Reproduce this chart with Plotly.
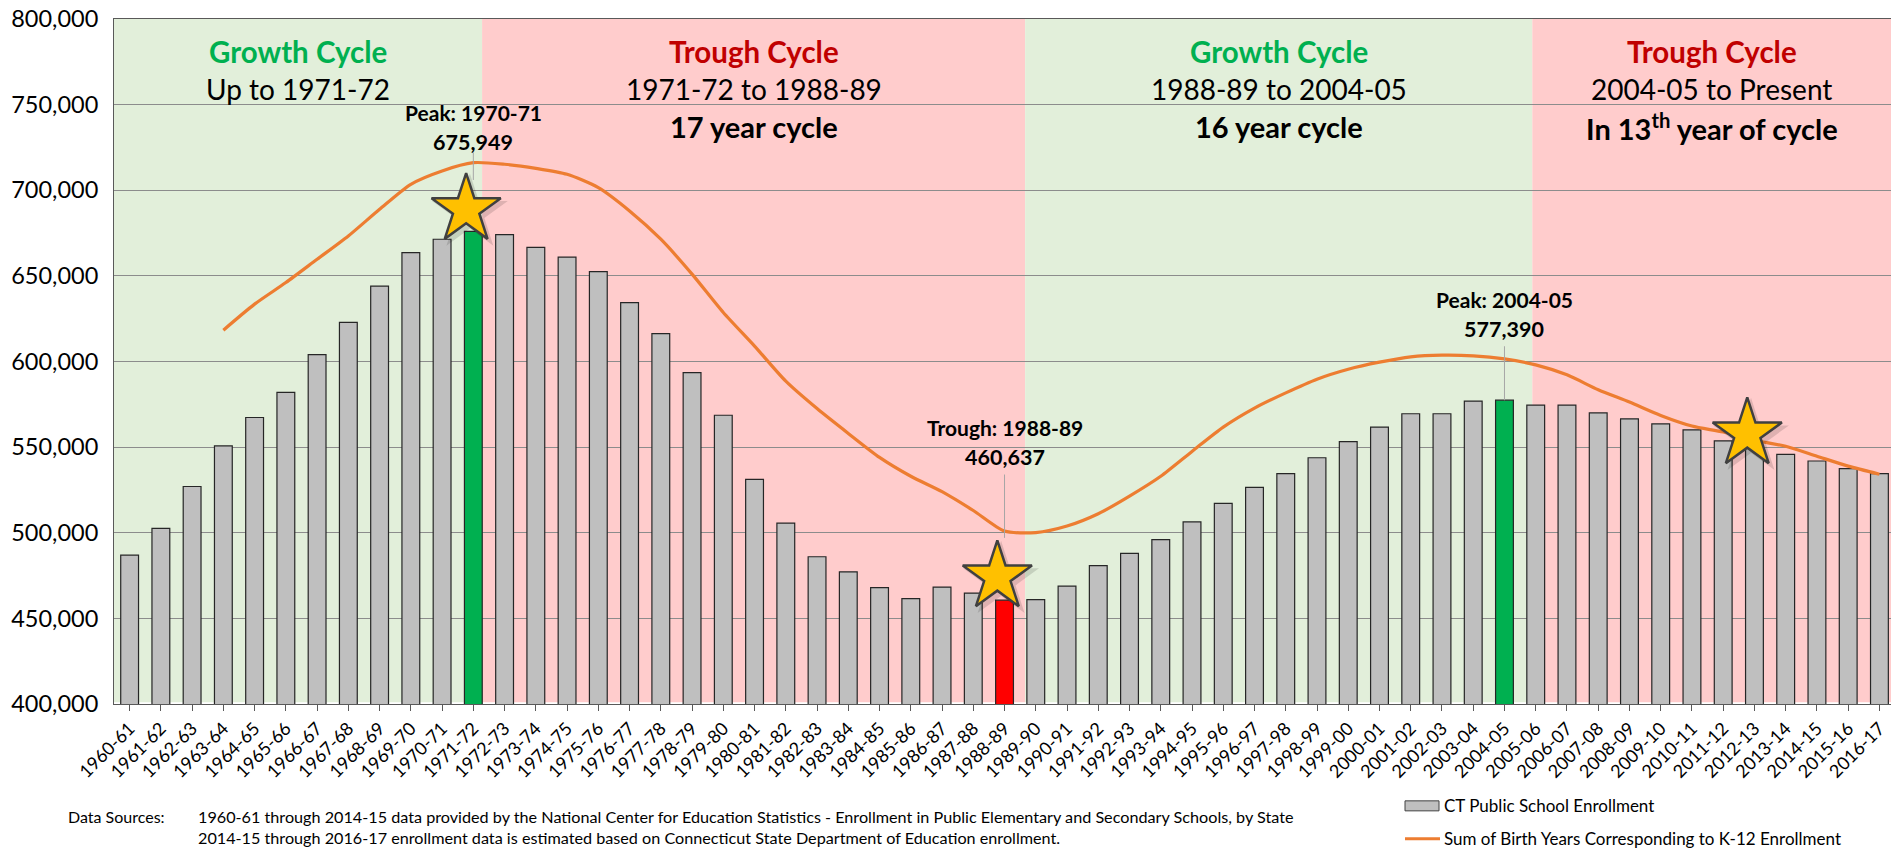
import plotly.graph_objects as go

# ---------------- data ----------------
years = ["1960-61", "1961-62", "1962-63", "1963-64", "1964-65", "1965-66", "1966-67", "1967-68",
         "1968-69", "1969-70", "1970-71", "1971-72", "1972-73", "1973-74", "1974-75", "1975-76",
         "1976-77", "1977-78", "1978-79", "1979-80", "1980-81", "1981-82", "1982-83", "1983-84",
         "1984-85", "1985-86", "1986-87", "1987-88", "1988-89", "1989-90", "1990-91", "1991-92",
         "1992-93", "1993-94", "1994-95", "1995-96", "1996-97", "1997-98", "1998-99", "1999-00",
         "2000-01", "2001-02", "2002-03", "2003-04", "2004-05", "2005-06", "2006-07", "2007-08",
         "2008-09", "2009-10", "2010-11", "2011-12", "2012-13", "2013-14", "2014-15", "2015-16",
         "2016-17"]

enrollment = [486900, 502600, 527000, 550700, 567300, 582000, 604000, 622800,
              644000, 663600, 671400, 675949, 674100, 666700, 660900, 652500,
              634400, 616300, 593500, 568600, 531200, 505600, 486000, 477200,
              467900, 461500, 468300, 464800, 460637, 461000, 468800, 480800,
              488000, 496000, 506300, 517200, 526500, 534500, 543800, 553200,
              561700, 569500, 569500, 576900, 577390, 574500, 574500, 570000,
              566500, 563600, 560100, 553700, 550100, 545800, 541900, 537400,
              534500]

# Sum of birth years (line) starts at 1963-64
birth_years = years[3:]
birth_sum = [618300, 633500, 646100, 659700, 673300, 688900, 703500, 711300, 716100,
             715200, 712800, 709300, 701500, 687900, 671400, 651000, 628600, 609000,
             588500, 572500, 558000, 544000, 533000, 524000, 513000, 501000, 500100,
             503900, 511100, 521400, 533000, 547500, 561700, 572800, 581700, 589700,
             595500, 599600, 602700, 603700, 603300, 601500, 598000, 592200, 583500,
             576300, 568500, 562300, 558800, 554000, 550500, 544700, 538900, 534200]

peak_years = ["1971-72", "2004-05"]
trough_years = ["1988-89"]

# cycle shading regions (category-axis boundaries) and their captions
cycle_edges = [-0.5, 11.28, 28.66, 44.89, 56.37]
cycle_kind = ["growth", "trough", "growth", "trough"]
cycle_titles = ["Growth Cycle", "Trough Cycle", "Growth Cycle", "Trough Cycle"]
cycle_ranges = ["Up to 1971-72", "1971-72 to 1988-89", "1988-89 to 2004-05", "2004-05 to Present"]
cycle_lengths = ["", "17 year cycle", "16 year cycle", "In 13<sup>th</sup> year of cycle"]

# callouts
callout_years = ["1971-72", "1988-89", "2004-05"]
callout_titles = ["Peak: 1970-71", "Trough: 1988-89", "Peak: 2004-05"]
callout_values = ["675,949", "460,637", "577,390"]

# stars
star_years = ["1971-72", "1988-89", "2012-13"]
star_values = [688800, 474300, 557800]

y_ticks = [400000, 450000, 500000, 550000, 600000, 650000, 700000, 750000, 800000]

# ---------------- styling ----------------
FONT = "Lato, 'Open Sans', sans-serif"
GRAY = "#BFBFBF"
GREEN = "#00B050"
RED = "#FF0000"
ORANGE = "#ED7D31"
SHADE = {"growth": "#E2EFDA", "trough": "#FFCCCC"}
TITLE_COL = {"growth": "#00B050", "trough": "#C00000"}

idx = {y: i for i, y in enumerate(years)}
xs = list(range(len(years)))
bar_colors = []
for y in years:
    if y in peak_years:
        bar_colors.append(GREEN)
    elif y in trough_years:
        bar_colors.append(RED)
    else:
        bar_colors.append(GRAY)

fig = go.Figure()

fig.add_trace(go.Bar(
    x=xs, y=enrollment,
    marker=dict(color=bar_colors, line=dict(color="#262626", width=1.2)),
    width=0.57, name="CT Public School Enrollment", showlegend=False,
    customdata=years, hovertemplate="%{customdata}: %{y:,}<extra></extra>",
))

fig.add_trace(go.Scatter(
    x=[idx[y] for y in birth_years], y=birth_sum, mode="lines",
    line=dict(color=ORANGE, width=3.2, shape="spline", smoothing=0.7),
    name="Sum of Birth Years Corresponding to K-12 Enrollment", showlegend=False,
))

# stars (soft shadow + star)
sx = [idx[y] - 0.23 for y in star_years]
fig.add_trace(go.Scatter(
    x=[v + 0.12 for v in sx], y=[v - 2300 for v in star_values], mode="markers",
    marker=dict(symbol="star", size=57, color="rgba(0,0,0,0.13)", line=dict(width=0)),
    showlegend=False, hoverinfo="skip",
))
fig.add_trace(go.Scatter(
    x=sx, y=star_values, mode="markers",
    marker=dict(symbol="star", size=52, color="#FFC000", line=dict(color="#404040", width=2.5)),
    showlegend=False, hoverinfo="skip",
))

shapes = []
annotations = []

# background cycle shading
for k in range(len(cycle_kind)):
    shapes.append(dict(type="rect", xref="x", yref="y", layer="below",
                       x0=cycle_edges[k], x1=cycle_edges[k + 1] + (0.2 if k == 3 else 0),
                       y0=401000, y1=800000,
                       fillcolor=SHADE[cycle_kind[k]], line=dict(width=0)))
    cx = (cycle_edges[k] + cycle_edges[k + 1]) / 2
    annotations.append(dict(x=cx, y=781300, xref="x", yref="y", text="<b>%s</b>" % cycle_titles[k],
                            showarrow=False, font=dict(size=29.5, color=TITLE_COL[cycle_kind[k]], family=FONT)))
    annotations.append(dict(x=cx, y=759000, xref="x", yref="y", text=cycle_ranges[k],
                            showarrow=False, font=dict(size=28, color="#000000", family=FONT)))
    if cycle_lengths[k]:
        annotations.append(dict(x=cx, y=737000, xref="x", yref="y", text="<b>%s</b>" % cycle_lengths[k],
                                showarrow=False, font=dict(size=29, color="#000000", family=FONT)))

# callouts with leader lines
callout_title_y = [745500, 561300, 636400]
callout_value_y = [728400, 544100, 618900]
leader = [(722000, 706000), (534000, 497000), (608900, 577390)]
for k, y in enumerate(callout_years):
    cx = idx[y]
    shapes.append(dict(type="line", xref="x", yref="y", x0=cx, x1=cx,
                       y0=leader[k][0], y1=leader[k][1], line=dict(color="#A6A6A6", width=1)))
    annotations.append(dict(x=cx, y=callout_title_y[k], xref="x", yref="y",
                            text="<b>%s</b>" % callout_titles[k], showarrow=False,
                            font=dict(size=21, color="#000000", family=FONT)))
    annotations.append(dict(x=cx, y=callout_value_y[k], xref="x", yref="y",
                            text="<b>%s</b>" % callout_values[k], showarrow=False,
                            font=dict(size=21.5, color="#000000", family=FONT)))

# manual legend (bottom right)
PW, PH, L, B = 1777.0, 686.0, 114.0, 705.0
def px(xp):
    return (xp - L) / PW
def py(yp):
    return (B - yp) / PH

shapes.append(dict(type="rect", xref="paper", yref="paper", x0=px(1405), x1=px(1439),
                   y0=py(812), y1=py(802), fillcolor=GRAY, line=dict(color="#404040", width=1)))
shapes.append(dict(type="line", xref="paper", yref="paper", x0=px(1405), x1=px(1440),
                   y0=py(840), y1=py(840), line=dict(color=ORANGE, width=3)))
annotations.append(dict(x=px(1442), y=py(807), xref="paper", yref="paper", xanchor="left",
                        yanchor="middle", text="CT Public School Enrollment", showarrow=False,
                        font=dict(size=17, color="#000000", family=FONT)))
annotations.append(dict(x=px(1442), y=py(840), xref="paper", yref="paper", xanchor="left",
                        yanchor="middle", text="Sum of Birth Years Corresponding to K-12 Enrollment",
                        showarrow=False, font=dict(size=17, color="#000000", family=FONT)))

# data sources note
annotations.append(dict(x=px(66), y=py(818), xref="paper", yref="paper", xanchor="left",
                        yanchor="middle", text="Data Sources:", showarrow=False,
                        font=dict(size=16, color="#000000", family=FONT)))
annotations.append(dict(x=px(196), y=py(818), xref="paper", yref="paper", xanchor="left",
                        yanchor="middle",
                        text="1960-61 through 2014-15 data provided by the National Center for Education Statistics - Enrollment in Public Elementary and Secondary Schools, by State",
                        showarrow=False, font=dict(size=16.2, color="#000000", family=FONT)))
annotations.append(dict(x=px(196), y=py(839), xref="paper", yref="paper", xanchor="left",
                        yanchor="middle",
                        text="2014-15 through 2016-17 enrollment data is estimated based on Connecticut State Department of Education enrollment.",
                        showarrow=False, font=dict(size=16.2, color="#000000", family=FONT)))

fig.update_layout(
    width=1891, height=850, autosize=False,
    margin=dict(l=114, r=0, t=19, b=146, pad=0),
    paper_bgcolor="white", plot_bgcolor="white",
    font=dict(family=FONT, color="#000000"),
    shapes=shapes, annotations=annotations,
    bargap=0.43,
    xaxis=dict(range=[-0.5, 56.37], tickmode="array", tickvals=xs, ticktext=years,
               tickangle=-45, tickfont=dict(size=18, family=FONT, color="#000000"),
               ticks="outside", ticklen=6, tickcolor="#595959",
               showline=True, linecolor="#595959", linewidth=1, mirror=True,
               showgrid=False, zeroline=False),
    yaxis=dict(range=[400000, 800000], tickmode="array", tickvals=y_ticks,
               tickformat=",", tickfont=dict(size=23.5, family=FONT, color="#000000"),
               showgrid=True, gridcolor="#8C8C8C", gridwidth=1,
               showline=True, linecolor="#595959", linewidth=1,
               ticks="", ticklabelstandoff=10, zeroline=False),
)

fig.write_html("out.html", config={"displayModeBar": False},
               post_script="document.body.style.margin='0';document.body.style.overflow='hidden';")
